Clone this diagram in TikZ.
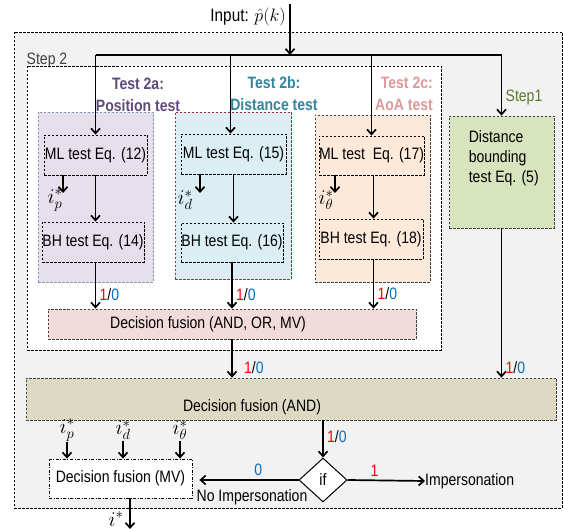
\documentclass[tikz,border=0pt]{standalone}
\usepackage{fix-cm}
\usepackage[no-math]{fontspec}
\setmainfont{Liberation Sans}[FakeStretch=0.85]
\usetikzlibrary{shapes.geometric, arrows.meta}
\definecolor{outerfill}{HTML}{F2F2F2}
\definecolor{posfill}{HTML}{E5E0EC}
\definecolor{disfill}{HTML}{DBEEF4}
\definecolor{aoafill}{HTML}{FDE9D9}
\definecolor{boundfill}{HTML}{D7E4BD}
\definecolor{orfill}{HTML}{F2DCDB}
\definecolor{andfill}{HTML}{DDD9C3}
\definecolor{posdraw}{HTML}{8497B0}
\definecolor{disdraw}{HTML}{953735}
\definecolor{postext}{HTML}{604A7B}
\definecolor{distext}{HTML}{31859C}
\definecolor{aoatext}{HTML}{DD9A98}
\definecolor{steptext}{HTML}{404040}
\definecolor{stepone}{HTML}{5F7530}
\definecolor{bitone}{HTML}{FF0000}
\definecolor{bitzero}{HTML}{0070C0}
\tikzset{
	framebox/.style={draw, line width=0.7pt, dash pattern=on 2.5pt off 1.5pt},
	testbox/.style={draw, line width=0.8pt, dash pattern=on 2.5pt off 1.5pt, inner sep=0pt},
	eqbox/.style={draw, line width=0.8pt, dash pattern=on 2.5pt off 1.5pt, inner sep=0pt, minimum height=40pt},
	mvbox/.style={draw, line width=0.8pt, dash pattern=on 3pt off 1.5pt on 1pt off 1.5pt, inner sep=0pt, fill=white},
	testname/.style={font=\bfseries\fontsize{16.5}{22}\selectfont},
	symb/.style={font=\fontsize{21}{24}\selectfont, inner sep=1pt},
	flow/.style={line width=1.7pt, -{Straight Barb[length=5pt, width=9pt]}},
	plain/.style={line width=1.7pt}
}
\newcommand{\bits}{\textcolor{bitone}{1}/\textcolor{bitzero}{0}}
\begin{document}
\begin{tikzpicture}[x=1pt, y=-1pt, font=\fontsize{16.5}{20}\selectfont]
	\useasboundingbox (0,0) rectangle (563,529);
	\draw[framebox, fill=outerfill] (14,32) rectangle (562,508);
	\draw[framebox, fill=white] (27,66) rectangle (441,350);
	\node[text=steptext] (steptwo) at (47,60) {Step 2};
	\node[text=stepone] (stepfirst) at (524,97) {Step1};
	
	\node[testbox, fill=posfill, draw=posdraw, minimum width=115pt, minimum height=170pt] (posarea) at (95.5,197) {};
	\node[testbox, fill=disfill, draw=disdraw, minimum width=116pt, minimum height=167pt] (disarea) at (233,195.5) {};
	\node[testbox, fill=aoafill, draw=steptext, minimum width=115pt, minimum height=167pt] (aoaarea) at (372.5,198.5) {};
	\node[testname, text=postext, align=center] (posname) at (138,95) {Test 2a:\\Position test};
	\node[testname, text=distext, align=center] (disname) at (274,94) {Test 2b:\\Distance test};
	\node[testname, text=aoatext, align=right] (aoaname) at (404,94) {Test 2c:\\AoA test};
	
	\node[eqbox, minimum width=103pt] (mla) at (95.5,155) {ML test Eq. (12)};
	\node[eqbox, minimum width=102pt] (bha) at (93,242) {BH test Eq. (14)};
	\node[eqbox, minimum width=105pt] (mlb) at (233.5,154) {ML test Eq. (15)};
	\node[eqbox, minimum width=102pt, minimum height=39pt] (bhb) at (232,242.5) {BH test Eq. (16)};
	\node[eqbox, minimum width=105pt, minimum height=39pt] (mlc) at (371.5,155.5) {ML test~ Eq. (17)};
	\node[eqbox, minimum width=104pt] (bhc) at (371,239) {BH test Eq. (18)};
	
	\node[testbox, fill=boundfill, draw=steptext, minimum width=105pt, minimum height=112pt,
		label={[anchor=north west, align=left, inner sep=0pt, xshift=20pt, yshift=-15pt]north west:Distance\\bounding\\test Eq. (5)}] (bound) at (501.5,172) {};
	\node[testbox, fill=orfill, draw=steptext, minimum width=368pt, minimum height=30pt,
		label={[xshift=-24pt]center:Decision fusion (AND, OR, MV)}] (fuseor) at (232,324) {};
	\node[testbox, fill=andfill, draw=steptext, minimum width=530pt, minimum height=42pt,
		label={[xshift=-39pt, yshift=-8pt]center:Decision fusion (AND)}] (fuseand) at (291,399) {};
	\node[mvbox, minimum width=143pt, minimum height=39pt] (fusemv) at (120.5,478.5) {Decision fusion (MV)};
	\node[diamond, draw, line width=1pt, fill=white, minimum width=48pt, minimum height=44pt, inner sep=0pt] (cond) at (323,480) {if};
	\node[anchor=west, inner sep=0pt] (imp) at (425,481) {Impersonation};
	
	\node[anchor=east, font=\fontsize{18}{22}\selectfont, inner sep=0pt] (input) at (286,17) {Input: $\hat{p}(k)$};
	\coordinate (src) at (290,4);
	\coordinate (split) at (290,55);
	\draw[flow] (src) -- (split);
	\draw[plain] (mla.north |- split) -- (bound.north |- split);
	\draw[flow] (mla.north |- split) -- (mla.north);
	\draw[flow] (mlb.north |- split) ++(-3,0) coordinate (brb) -- (mlb.north -| brb);
	\draw[flow] (mlc.north |- split) -- (mlc.north);
	\draw[flow] (bound.north |- split) -- (bound.north);
	
	\draw[flow] (mla.south) -- (mla.south |- bha.north);
	\draw[flow] (mlb.south) -- (mlb.south |- bhb.north);
	\draw[flow] (mlc.south) ++(2,0) coordinate (mlcout) -- (bhc.north -| mlcout);
	
	\coordinate (ipend) at (63,193);
	\coordinate (idend) at (200,193);
	\coordinate (itend) at (335,193);
	\draw[flow] (mla.south -| ipend) -- (ipend);
	\draw[flow] (mlb.south -| idend) -- (idend);
	\draw[flow] (mlc.south -| itend) -- (itend);
	\node[symb] (ipa) at (55,200) {$i_p^*$};
	\node[symb] (ida) at (185,200) {$i_d^*$};
	\node[symb] (ita) at (326,200) {$i_\theta^*$};
	
	\draw[flow] (bha.south -| mla) -- (fuseor.north -| mla) node[right, pos=0.7] (bita) {\bits};
	\draw[flow] (bhb.south) -- (fuseor.north -| bhb) node[right, pos=0.7] (bitb) {\bits};
	\draw[flow] (bhc.south -| mlcout) -- (fuseor.north -| mlcout) node[right, pos=0.7] (bitc) {\bits};
	\draw[flow] (fuseor.south) -- (fuseand.north -| fuseor) node[right, pos=0.75, xshift=8pt] (bitor) {\bits};
	\draw[flow] (bound.south) -- (fuseand.north -| bound) node[right, pos=0.93] (bitbound) {\bits};
	\draw[flow] (fuseand.south -| cond) -- (cond.north) node[right, pos=0.45] (bitand) {\bits};
	
	\draw[flow] (cond.east) -- (imp.west) node[above, pos=0.35, text=bitone] (yes) {1};
	\draw[flow, shorten >=7pt] (cond.west) -- (cond.west -| fusemv.east) node[above, pos=0.38, text=bitzero] (no) {0};
	\node (noimp) at (252,497) {No Impersonation};
	
	\node[symb] (ipb) at (67,430) {$i_p^*$};
	\node[symb] (idb) at (123,430) {$i_d^*$};
	\node[symb] (itb) at (180,430) {$i_\theta^*$};
	\draw[flow] (ipb.south) -- (ipb |- fusemv.north);
	\draw[flow] (idb.south) -- (idb |- fusemv.north);
	\draw[flow] (itb.south) -- (itb |- fusemv.north);
	
	\coordinate (istar) at (130,529);
	\draw[flow] (fusemv.south -| istar) -- (istar);
	\node[symb] (istarname) at (116,519) {$i^*$};
\end{tikzpicture}
\end{document}
